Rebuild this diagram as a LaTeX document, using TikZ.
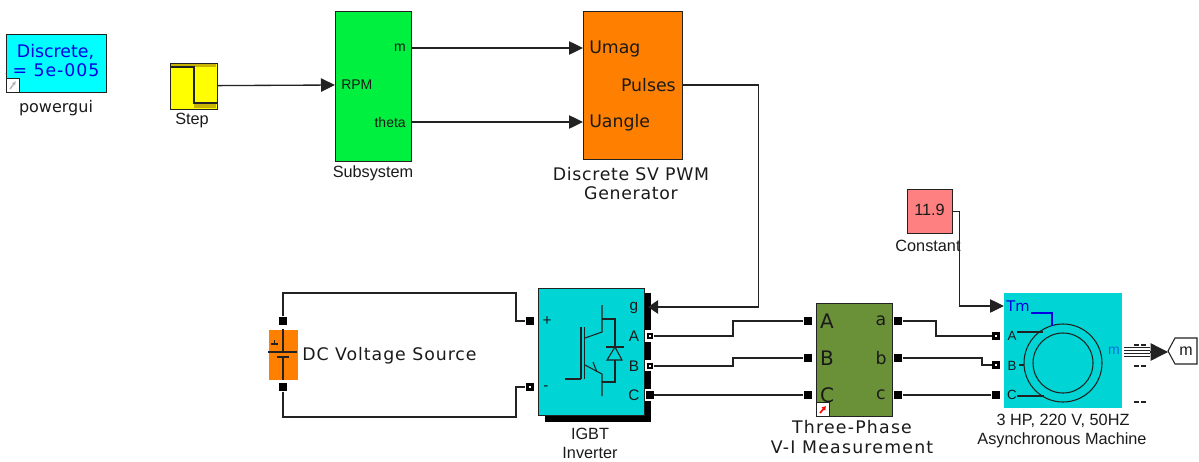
\documentclass[tikz,border=0pt]{standalone}
\usepackage{fontspec}
\setmainfont{Liberation Sans}
\newfontfamily\vfont{DejaVu Sans}
\newfontfamily\vfontA[LetterSpace=4]{DejaVu Sans}
\newfontfamily\vfontC[LetterSpace=5.5]{DejaVu Sans}
\newfontfamily\vfontB[LetterSpace=7]{DejaVu Sans}
\usetikzlibrary{arrows.meta,calc,shapes.geometric}
\def\pxu{0.75pt}
\definecolor{wirec}{HTML}{222222}
\definecolor{txtc}{HTML}{1A1A1A}
\definecolor{cyanA}{HTML}{00FFFF}
\definecolor{cyanB}{HTML}{00D4D4}
\definecolor{grn}{HTML}{00F040}
\definecolor{org}{HTML}{FF8000}
\definecolor{oliv}{HTML}{6B9138}
\definecolor{pnk}{HTML}{FF8080}
\definecolor{yel}{HTML}{FFFF00}
\definecolor{ylw}{HTML}{C8B400}
\definecolor{bluet}{HTML}{0000E0}
\definecolor{bluem}{HTML}{0070E0}
\tikzset{
  x=0.75pt,y=-0.75pt,
  blockbox/.style={draw=wirec,line width=0.9pt,inner sep=0pt,anchor=north west},
  wire/.style={draw=wirec,line width=1pt},
  arrowwire/.style={wire,-{Triangle[length=10.5pt,width=10pt]}},
  sym/.style={draw=wirec,line width=0.8pt},
  portfull/.style={fill=black,draw=none,minimum size=6.6pt,inner sep=0pt},
  portopen/.style={fill=black,draw=none,minimum size=6pt,inner sep=0pt,
    path picture={\fill[white] ($(path picture bounding box.center)+(-1pt,-1pt)$) rectangle ++(2pt,2pt);}},
  arial/.style={font=\fontsize{12.2}{14}\selectfont,text=txtc,inner sep=0pt},
  verd/.style={font=\vfont\fontsize{13}{15}\selectfont,text=txtc,inner sep=0pt},
  verdA/.style={font=\vfontA\fontsize{13}{15}\selectfont,text=txtc,inner sep=0pt},
  verdC/.style={font=\vfontC\fontsize{13}{15}\selectfont,text=txtc,inner sep=0pt},
  verdB/.style={font=\vfontB\fontsize{13}{15}\selectfont,text=txtc,inner sep=0pt},
  verdL/.style={font=\vfont\fontsize{15}{17}\selectfont,text=txtc,inner sep=0pt},
  small/.style={font=\fontsize{10.5}{12}\selectfont,text=txtc,inner sep=0pt},
  invlab/.style={font=\fontsize{11.5}{13}\selectfont,text=txtc,inner sep=0pt},
}
\begin{document}
\begin{tikzpicture}
\useasboundingbox (0,0) rectangle (1199,461);
% powergui
\node[blockbox,fill=cyanA,minimum width=100*\pxu,minimum height=58*\pxu] (pg) at (6,34) {};
\begin{scope}
\clip (5,34) rectangle (108.5,92);
\node[verd,text=bluet] (pgtop) at (55.5,52) {Discrete,};
\node[verdC,text=bluet] (pgbot) at (58,70) {s = 5e-005\hspace{3pt} s};
\end{scope}
\node[blockbox,fill=white,minimum width=13*\pxu,minimum height=14*\pxu] (pglink) at (6,78) {};
\draw[gray!60,line width=1pt,-{Latex[length=3pt,width=3pt]}] (10,89) -- (16,81);
\node[verd,font=\vfont\fontsize{12}{14}\selectfont] (pglab) at (56,108) {powergui};
% Step
\node[blockbox,fill=yel,minimum width=47*\pxu,minimum height=46*\pxu] (step1) at (170,63) {};
\fill[ylw] (171,64) rectangle (216,67);
\fill[ylw] (194,103) rectangle (216,108);
\draw[wire,line width=0.9pt] (171,67) -- (194,67) -- (194,103) -- (217,103);
\node[arial] (steplab) at (192,120.5) {Step};
% Subsystem
\node[blockbox,fill=grn,minimum width=76*\pxu,minimum height=150*\pxu] (sub) at (335,11) {};
\node[small,anchor=west] (rpm) at (341,85) {RPM};
\node[small,anchor=east] (subm) at (406,48) {m};
\node[small,anchor=east] (subt) at (406,122) {theta};
\node[arial] (sublab) at (373,173.5) {Subsystem};
% PWM
\node[blockbox,fill=org,minimum width=99*\pxu,minimum height=148*\pxu] (pwm) at (583,11) {};
\node[verd,anchor=west] (umag) at (589,48.5) {Umag};
\node[verd,anchor=east] (puls) at (676,85) {Pulses};
\node[verd,anchor=west] (uang) at (589,122.5) {Uangle};
\node[verdA] (pwml1) at (631,174) {Discrete SV PWM};
\node[verdA] (pwml2) at (631,193) {Generator};
% DC source
\node[blockbox,fill=org,draw=none,minimum width=29*\pxu,minimum height=50*\pxu] (dc) at (268,329) {};
\draw[sym,line width=1.1pt] (283,329) -- (283,351);
\draw[sym,line width=1.1pt] (268,352) -- (297,352);
\draw[sym,line width=1.1pt] (277,357) -- (289,357);
\draw[sym,line width=1.1pt] (283,357) -- (283,380);
\draw[sym] (271,344) -- (278,344) (274.5,340) -- (274.5,344);
\node[portfull] (dcp) at (283,321) {};
\node[portfull] (dcn) at (283,387) {};
\node[verdC,anchor=west] (dclab) at (302,356) {DC Voltage Source};
% Inverter
\fill[black] (545,293) rectangle (651,422);
\fill[white] (644,330) rectangle (652,342);
\fill[white] (644,360) rectangle (652,371);
\fill[white] (644,389) rectangle (652,401);
\node[blockbox,fill=cyanB,minimum width=106*\pxu,minimum height=127*\pxu] (inv) at (538,288) {};
\node[invlab] (invg) at (634,308) {g};
\node[invlab] (inva) at (634,336) {A};
\node[invlab] (invb) at (634,366) {B};
\node[invlab] (invc) at (634,395) {C};
\node[invlab] (invpl) at (547,321) {+};
\node[invlab] (invmi) at (546,388) {-};
\draw[sym] (581,327) -- (581,379) (584.5,327) -- (584.5,379);
\draw[sym] (565,379) -- (581,379);
\draw[sym] (602,305) -- (602,332) -- (585,338);
\draw[sym] (585,365) -- (602,374) -- (602,396);
\draw[sym] (593,362) -- (597,372);
\draw[sym] (602,319) -- (615,319) -- (615,346);
\draw[sym] (606,347) -- (624,347);
\draw[sym] (615,347) -- (607,360) -- (622,360) -- cycle;
\draw[sym] (615,360) -- (615,382) -- (602,382);
\node[portopen,minimum size=5pt] (ina) at (650,336) {};
\node[portopen,minimum size=5pt] (inb) at (650,366) {};
\node[portfull,minimum size=5.5pt] (inc) at (650,395) {};
\node[portfull] (inp) at (530,321) {};
\node[portopen,minimum size=6.6pt] (inn) at (530,387) {};
\coordinate (ing) at (648,307);
\node[arial] (invl1) at (590,434) {IGBT};
\node[arial] (invl2) at (590,452.5) {Inverter};
% Measurement
\node[blockbox,fill=oliv,minimum width=76*\pxu,minimum height=113*\pxu] (meas) at (816,303) {};
\node[verdL] (mA) at (827,321) {A};
\node[verdL] (mB) at (827,358) {B};
\node[verdL] (mC) at (827,395) {C};
\node[verd] (ma) at (881,321) {a};
\node[verd] (mb) at (881,358) {b};
\node[verd] (mc) at (881,395) {c};
\node[blockbox,fill=white,minimum width=13*\pxu,minimum height=14*\pxu] (mlink) at (816,402) {};
\draw[red,line width=1.2pt,-{Latex[length=3pt,width=4pt]}] (820,413) -- (826,406);
\node[portfull] (mia) at (808,321) {};
\node[portfull] (mib) at (808,358) {};
\node[portfull] (mic) at (808,395) {};
\node[portfull] (moa) at (898,321) {};
\node[portfull] (mob) at (898,358) {};
\node[portfull] (moc) at (898,395) {};
\node[verdB] (ml1) at (852,427) {Three-Phase};
\node[verdB] (ml2) at (852,447) {V-I Measurement};
% Constant
\node[blockbox,fill=pnk,minimum width=45*\pxu,minimum height=44*\pxu] (const) at (907,189) {};
\node[arial] (cval) at (929.5,210) {11.9};
\node[arial] (clab) at (928,246) {Constant};
% Machine
\node[anchor=north west,fill=cyanB,inner sep=0pt,minimum width=118*\pxu,minimum height=115*\pxu] (mach) at (1004,293) {};
\node[text=bluet,font=\vfont\fontsize{11}{13}\selectfont,inner sep=0pt] (tm) at (1018,306) {Tm};
\node[small,font=\fontsize{10}{12}\selectfont] (mchA) at (1012,336) {A};
\node[small,font=\fontsize{10}{12}\selectfont] (mchB) at (1012,366) {B};
\node[small,font=\fontsize{10}{12}\selectfont] (mchC) at (1012,395) {C};
\node[small,text=bluem] (mchm) at (1114,351) {m};
\draw[sym] (1063,363) circle (39);
\draw[sym] (1063,363) circle (30);
\draw[draw=bluet,line width=0.9pt] (1031,313) -- (1052,313) -- (1052,326);
\draw[sym] (1017,332) -- (1043,332);
\draw[sym] (1024,365) -- (1019,365);
\draw[sym] (1017,396) -- (1044,396);
\node[portopen] (mca) at (996,336) {};
\node[portopen] (mcb) at (996,365) {};
\node[portfull] (mcc) at (996,395) {};
\coordinate (mct) at (1004,306);
\node[arial] (machl1) at (1063,421) {3 HP, 220 V, 50HZ};
\node[arial] (machl2) at (1062,440.5) {Asynchronous Machine};
% Goto
\draw[wire,line width=0.8pt,fill=white] (1197,338) -- (1175,338) -- (1168,351) -- (1175,364) -- (1197,364) -- cycle;
\coordinate (gt) at (1168,352);
\node[small,font=\fontsize{12}{14}\selectfont] (gtm) at (1186,351) {m};
\coordinate (mout) at (1124,351);
\foreach \yy in {345,366,402}{\draw[wirec,line width=0.9pt] (1134,\yy) -- (1139,\yy) (1141,\yy) -- (1146,\yy);}
% Connectors
\draw[arrowwire] (step1.east) ++(0,-1) -- (sub.west |- rpm);
\draw[arrowwire] (sub.east |- subm) -- (pwm.west |- subm);
\draw[arrowwire] (sub.east |- subt) -- (pwm.west |- subt);
\draw[wire] (pwm.east |- puls) -- ++(75,0) |- ($(ing)+(9,0)$);
\draw[wire,-{Triangle[length=7.5pt,width=10pt]}] ($(ing)+(9,0)$) -- (ing);
\draw[wire] (dcp) -- ++(0,-28) -| ++(233,28) -- (inp);
\draw[wire] (dcn) -- ++(0,30) -| ++(233,-30) -- (inn);
\draw[wire] (ina) -- ++(83,0) |- (mia);
\draw[wire] (inb) -- ++(83,0) |- (mib);
\draw[wire] (inc) -- (mic);
\draw[wire] (moa) -- ++(38,0) |- (mca);
\draw[wire] (mob) -- ++(84,0) |- (mcb);
\draw[wire] (moc) -- (mcc);
\draw[arrowwire] (const.east) -- ++(6,0) |- (mct);
\draw[wire] ($(mout)+(0,-3.5)$) -- ++(26,0) ($(mout)+(0,-0.5)$) -- ++(26,0) ($(mout)+(0,2.5)$) -- ++(26,0) ($(mout)+(0,5.5)$) -- ++(26,0);
\draw[wire,-{Triangle[length=13pt,width=13pt]}] ($(mout)+(26,1)$) -- (gt);
\end{tikzpicture}
\end{document}
